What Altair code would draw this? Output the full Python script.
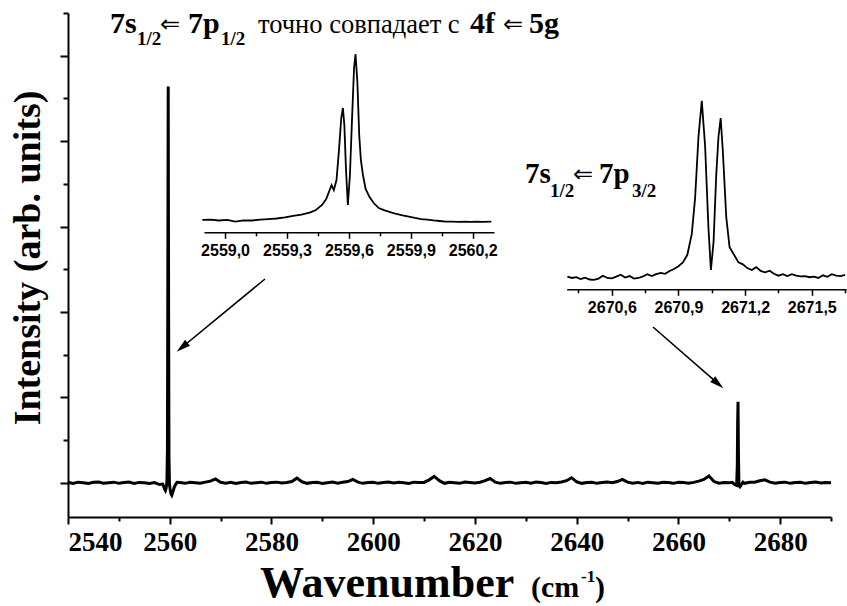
import math
import altair as alt
import pandas as pd

# ---------------- data ----------------
# main spectrum: baseline sampled every 1 cm-1 (2540..2690)
base_wn = list(range(2540, 2691))
base_int = [
    0.006, -0.007, 0.008, 0.001, -0.008, 0.006, 0.010, -0.005, 0.002, 0.008,
    -0.006, 0.003, 0.009, -0.008, 0.005, 0.000, -0.007, 0.004, -0.020, -0.080,
    -0.100, -0.030, 0.003, -0.006, 0.007, 0.001, -0.005, 0.008, 0.020, 0.045,
    0.006, -0.005, 0.006, -0.008, 0.003, 0.009, -0.006, 0.002, 0.008, -0.006,
    0.004, 0.008, -0.003, 0.005, 0.015, 0.055, 0.012, -0.006, 0.003, 0.006,
    -0.008, 0.002, 0.009, -0.004, 0.006, 0.015, 0.040, 0.008, -0.006, 0.003,
    0.007, -0.006, 0.004, 0.009, -0.003, 0.006, 0.000, -0.008, 0.008, 0.003,
    0.005, 0.035, 0.075, 0.025, -0.006, 0.006, 0.002, -0.006, 0.009, 0.004,
    -0.003, 0.007, 0.025, 0.050, 0.008, -0.006, 0.004, 0.008, -0.006, 0.002,
    0.006, -0.004, 0.009, 0.003, -0.008, 0.005, 0.002, 0.010, 0.025, 0.060,
    0.012, -0.006, 0.004, 0.007, -0.006, 0.003, 0.009, 0.001, 0.015, 0.040,
    0.008, -0.004, 0.005, -0.008, 0.008, 0.002, -0.006, 0.006, 0.004, -0.006,
    0.007, 0.003, -0.006, 0.005, 0.020, 0.040, 0.080, 0.015, -0.005, 0.005,
    0.002, 0.000, 0.000, -0.006, 0.006, 0.008, 0.025, 0.035, 0.008, -0.005,
    0.005, 0.008, -0.006, 0.003, 0.007, -0.006, 0.004, 0.009, -0.003, 0.005, 0.002,
]
# 7s1/2 <= 7p1/2 line region
spike1_wn = [2558.6, 2558.8, 2559.0, 2559.15, 2559.3, 2559.45, 2559.55, 2559.62, 2559.70,
             2559.78, 2559.85, 2559.95, 2560.1, 2560.25, 2560.4, 2560.6, 2560.9, 2561.2, 2561.45]
spike1_int = [-0.015, -0.040, -0.075, -0.090, -0.060, 0.020, 0.400, 2.200, 4.640,
              2.000, 0.300, -0.020, -0.080, -0.130, -0.145, -0.110, -0.050, -0.015, 0.005]
# 7s1/2 <= 7p3/2 line region
spike2_wn = [2670.6, 2670.9, 2671.2, 2671.45, 2671.58, 2671.65, 2671.72, 2671.80, 2671.9,
             2672.1, 2672.4, 2672.7]
spike2_int = [0.006, -0.012, -0.025, -0.030, 0.200, 0.700, 0.950, 0.350, -0.030,
              -0.045, -0.020, 0.008]

# inset 1 (high resolution scan around 2559.6)
ins1_wn = [2558.89, 2558.93, 2558.97, 2559.01, 2559.05, 2559.09, 2559.13, 2559.17, 2559.21,
           2559.25, 2559.29, 2559.33, 2559.37, 2559.41, 2559.44, 2559.47, 2559.49, 2559.505,
           2559.516, 2559.527, 2559.54, 2559.552, 2559.563, 2559.571, 2559.578, 2559.586,
           2559.595, 2559.605, 2559.615, 2559.625, 2559.632, 2559.641, 2559.650, 2559.658,
           2559.668, 2559.681, 2559.70, 2559.72, 2559.745, 2559.77, 2559.80, 2559.83, 2559.86,
           2559.89, 2559.92, 2559.95, 2559.98, 2560.01, 2560.04, 2560.07, 2560.10, 2560.13,
           2560.16, 2560.19, 2560.22, 2560.25, 2560.29]
ins1_int = [0.067, 0.069, 0.064, 0.067, 0.058, 0.064, 0.064, 0.069, 0.072,
            0.075, 0.081, 0.089, 0.097, 0.108, 0.122, 0.150, 0.183, 0.228,
            0.261, 0.233, 0.289, 0.456, 0.633, 0.689, 0.594, 0.344,
            0.150, 0.317, 0.622, 0.911, 0.989, 0.833, 0.539, 0.400,
            0.317, 0.239, 0.194, 0.161, 0.133, 0.122, 0.111, 0.100, 0.092,
            0.086, 0.078, 0.072, 0.069, 0.064, 0.061, 0.058, 0.058, 0.056,
            0.058, 0.056, 0.058, 0.056, 0.058]

# inset 2 (high resolution scan around 2671.0)
ins2_wn = [2670.40, 2670.42, 2670.44, 2670.46, 2670.48, 2670.50, 2670.52, 2670.54, 2670.56,
           2670.58, 2670.60, 2670.62, 2670.64, 2670.66, 2670.68, 2670.70, 2670.72, 2670.74,
           2670.76, 2670.78, 2670.80, 2670.82, 2670.84, 2670.86, 2670.88, 2670.90, 2670.92,
           2670.94, 2670.96, 2670.975, 2670.99, 2671.005, 2671.02, 2671.035, 2671.046,
           2671.058, 2671.07, 2671.08, 2671.09, 2671.10, 2671.115, 2671.13, 2671.15, 2671.17,
           2671.19, 2671.21, 2671.23, 2671.25, 2671.27, 2671.29, 2671.31, 2671.33, 2671.35,
           2671.37, 2671.39, 2671.41, 2671.43, 2671.45, 2671.47, 2671.49, 2671.51, 2671.53,
           2671.55, 2671.57, 2671.59, 2671.61, 2671.63, 2671.65]
ins2_int = [0.065, 0.058, 0.062, 0.052, 0.060, 0.050, 0.048, 0.055, 0.070,
            0.058, 0.056, 0.065, 0.075, 0.060, 0.068, 0.055, 0.058, 0.066,
            0.078, 0.068, 0.078, 0.085, 0.080, 0.095, 0.105, 0.120, 0.140,
            0.180, 0.290, 0.480, 0.800, 0.990, 0.750, 0.320, 0.100,
            0.250, 0.600, 0.800, 0.900, 0.720, 0.380, 0.220, 0.180, 0.140,
            0.130, 0.110, 0.100, 0.115, 0.095, 0.088, 0.096, 0.080, 0.070,
            0.078, 0.068, 0.078, 0.070, 0.066, 0.068, 0.062, 0.065, 0.058,
            0.072, 0.064, 0.078, 0.070, 0.068, 0.074]

main_ticks = [2540, 2560, 2580, 2600, 2620, 2640, 2660, 2680]
main_minor = [2550, 2570, 2590, 2610, 2630, 2650, 2670, 2690]
y_major = [0, 1, 2, 3, 4, 5]
y_minor = [0.5, 1.5, 2.5, 3.5, 4.5, 5.5]
ins1_ticks = [2559.0, 2559.3, 2559.6, 2559.9, 2560.2]
ins1_minor = [2559.15, 2559.45, 2559.75, 2560.05]
ins2_ticks = [2670.6, 2670.9, 2671.2, 2671.5]
ins2_minor = [2670.45, 2670.75, 2671.05, 2671.35, 2671.65]

# ---------------- layout ----------------
PX0, PY0 = 68, 13          # plot origin inside the page
W, H = 763, 504
SERIF = "Liberation Serif, Times New Roman, DejaVu Serif, serif"
SANS = "Liberation Sans, Arial, DejaVu Sans, sans-serif"
ARROWF = "DejaVu Sans"

rows = [(w, v) for w, v in zip(base_wn, base_int)
        if not (2558.5 < w < 2561.5 or 2670.5 < w < 2672.9)]
rows += list(zip(spike1_wn, spike1_int)) + list(zip(spike2_wn, spike2_int))
rows.sort()
main_df = pd.DataFrame(rows, columns=["wn", "inten"])
ins1_df = pd.DataFrame({"wn": ins1_wn, "inten": ins1_int})
ins2_df = pd.DataFrame({"wn": ins2_wn, "inten": ins2_int})
one = pd.DataFrame({"k": [0]})

comma_expr = "replace(format(datum.value, '.1f'), '.', ',')"


def main_layer(xvals, yvals, major, opacity):
    return alt.Chart(main_df).mark_line(color="black", strokeWidth=3, strokeOpacity=opacity).encode(
        x=alt.X("wn:Q", scale=alt.Scale(domain=[2540, 2690], nice=False, zero=False),
                axis=alt.Axis(values=xvals, orient="bottom", title=None, grid=False,
                              labels=major, format="d", labelFont=SERIF, labelFontSize=27,
                              labelFontWeight="bold", labelColor="black", labelPadding=5,
                              tickSize=7 if major else 4, tickWidth=2, tickColor="black",
                              domain=major, domainWidth=2, domainColor="black")),
        y=alt.Y("inten:Q", scale=alt.Scale(domain=[-0.4, 5.5], nice=False, zero=False),
                axis=alt.Axis(values=yvals, orient="left", title=None, grid=False, labels=False,
                              tickSize=8 if major else 5, tickWidth=2, tickColor="black",
                              domain=major, domainWidth=2, domainColor="black")),
    )


def inset_layer(df, dom, rng, yrng, vals, offset, major, opacity):
    return alt.Chart(df).mark_line(color="black", strokeWidth=1.8, strokeOpacity=opacity).encode(
        x=alt.X("wn:Q", scale=alt.Scale(domain=dom, range=rng, nice=False, zero=False),
                axis=alt.Axis(values=vals, orient="bottom", title=None, grid=False,
                              labels=major, labelExpr=comma_expr, labelFont=SANS,
                              labelFontSize=16, labelFontWeight="bold", labelColor="black",
                              labelPadding=4, offset=offset,
                              tickSize=6 if major else 3.5, tickWidth=1.5, tickColor="black",
                              domain=major, domainWidth=1.5, domainColor="black")),
        y=alt.Y("inten:Q", scale=alt.Scale(domain=[0, 1], range=yrng, nice=False, zero=False),
                axis=None),
    )


def txt(s, x, y, size, weight="bold", font=SERIF, baseline="alphabetic", align="left", angle=0):
    return alt.Chart(one).mark_text(text=s, fontSize=size, fontWeight=weight, font=font,
                                    baseline=baseline, align=align, angle=angle,
                                    color="black").encode(
        x=alt.value(x - PX0), y=alt.value(y - PY0))


ARROW_PATH = "M0,-1L0.55,1L-0.55,1Z"


def arrow(x1, y1, x2, y2, head=14):
    dx, dy = x2 - x1, y2 - y1
    L = math.hypot(dx, dy)
    ux, uy = dx / L, dy / L
    cx, cy = x2 - ux * head / 2, y2 - uy * head / 2
    ang = math.degrees(math.atan2(ux, -uy)) % 360
    line = alt.Chart(one).mark_rule(color="black", strokeWidth=1.6).encode(
        x=alt.value(x1 - PX0), y=alt.value(y1 - PY0),
        x2=alt.value(cx - PX0), y2=alt.value(cy - PY0))
    tip = alt.Chart(one).mark_point(shape=ARROW_PATH, filled=True, color="black", opacity=1,
                                    size=head * head, angle=ang).encode(
        x=alt.value(cx - PX0), y=alt.value(cy - PY0))
    return line + tip


ins1_dom = [2558.898, 2560.303]
ins1_rng = [204 - PX0, 494 - PX0]
ins1_yr = [232 - PY0, 52 - PY0]
ins1_off = 232.3 - (PY0 + H)
ins2_dom = [2670.397, 2671.654]
ins2_rng = [566.7 - PX0, 846 - PX0]
ins2_yr = [289 - PY0, 99 - PY0]
ins2_off = 289.3 - (PY0 + H)

layers = [
    main_layer(main_minor, y_minor, False, 0),
    main_layer(main_ticks, y_major, True, 1),
    inset_layer(ins1_df, ins1_dom, ins1_rng, ins1_yr, ins1_minor, ins1_off, False, 0),
    inset_layer(ins1_df, ins1_dom, ins1_rng, ins1_yr, ins1_ticks, ins1_off, True, 1),
    inset_layer(ins2_df, ins2_dom, ins2_rng, ins2_yr, ins2_minor, ins2_off, False, 0),
    inset_layer(ins2_df, ins2_dom, ins2_rng, ins2_yr, ins2_ticks, ins2_off, True, 1),
    # header annotation
    txt("7s", 110, 33, 30),
    txt("1/2", 137, 45, 19),
    txt("\u21d0", 160, 32, 24, weight="normal", font=ARROWF),
    txt("7p", 188, 33, 30),
    txt("1/2", 221, 45, 19),
    txt("точно совпадает с", 258, 33, 26.5, weight="normal"),
    txt("4f", 470, 33, 30),
    txt("\u21d0", 503, 32, 24, weight="normal", font=ARROWF),
    txt("5g", 529, 33, 30),
    # second annotation
    txt("7s", 525, 183, 29),
    txt("1/2", 550, 197, 19),
    txt("\u21d0", 573, 182, 24, weight="normal", font=ARROWF),
    txt("7p", 599, 183, 29),
    txt("3/2", 632, 197, 19),
    # axis titles
    txt("Intensity (arb. units)", 29, 258, 38, baseline="middle", align="center", angle=270),
    txt("Wavenumber", 260, 597, 44),
    txt("(cm", 531, 597, 30),
    txt("-1", 581, 582, 17),
    txt(")", 595, 597, 30),
    arrow(265, 279, 176.7, 351.7),
    arrow(653, 327, 723.3, 388.3),
]

chart = alt.layer(*layers).resolve_scale(x="independent", y="independent").properties(
    width=W, height=H,
    padding={"left": PX0, "top": PY0, "right": 847 - PX0 - W, "bottom": 606 - PY0 - H},
    autosize=alt.AutoSizeParams(type="none"),
).configure_view(stroke=None)

chart.save("out.html", embed_options={"renderer": "svg", "actions": False})
